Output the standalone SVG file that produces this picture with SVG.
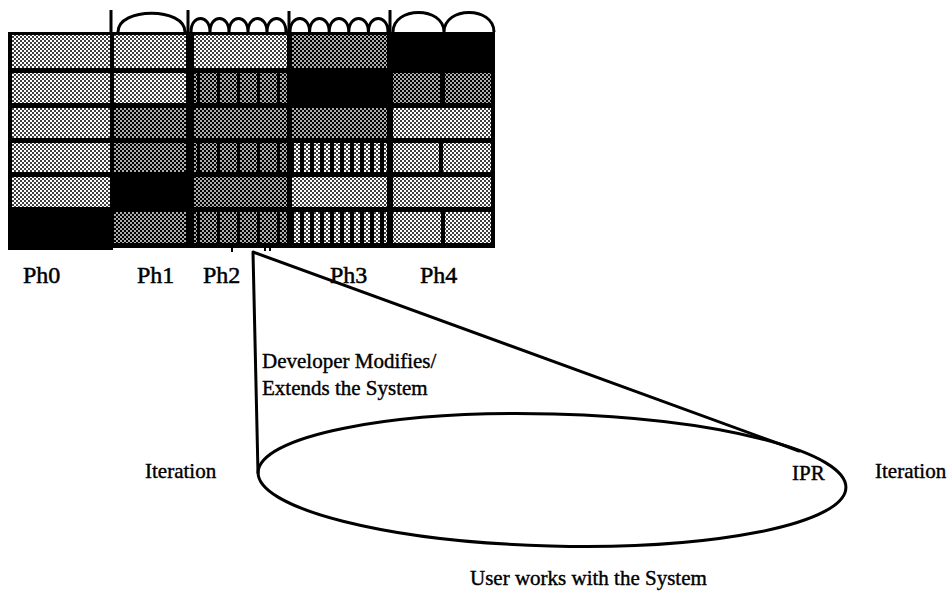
<svg xmlns="http://www.w3.org/2000/svg" width="950" height="601" viewBox="0 0 950 601">
<style>
.t{font-family:"Liberation Serif","Times New Roman",serif;font-size:21px;fill:#000;stroke:#000;stroke-width:0.4}
.ph{font-family:"Liberation Serif","Times New Roman",serif;font-size:24px;fill:#000;stroke:#000;stroke-width:0.5}
.ln{fill:none;stroke:#000;stroke-width:3;stroke-linecap:round;stroke-linejoin:round}
.arc{fill:none;stroke:#000;stroke-width:3}
</style>
<defs>
<pattern id="pL" width="4" height="4" patternUnits="userSpaceOnUse"><rect width="4" height="4" fill="#fff"/><circle cx="1" cy="1" r="1" fill="#000"/><circle cx="3" cy="3" r="1" fill="#000"/></pattern>
<pattern id="pD" width="4" height="4" patternUnits="userSpaceOnUse"><rect width="4" height="4" fill="#000"/><circle cx="1" cy="1" r="0.9" fill="#fff"/><circle cx="3" cy="3" r="0.9" fill="#fff"/></pattern>
<pattern id="pS" width="10" height="4" patternUnits="userSpaceOnUse"><rect width="10" height="4" fill="url(#pL)"/><rect width="4" height="4" fill="#000"/></pattern>
<pattern id="pS2" width="20" height="4" patternUnits="userSpaceOnUse"><rect width="20" height="4" fill="url(#pD)"/><rect x="17" width="3" height="4" fill="#000"/></pattern>
</defs>

<g id="grid">
<rect x="8" y="32" width="487" height="216" fill="#000"/>
<rect x="8" y="208" width="105" height="42" fill="#000"/>
<path d="M232,247 V252 M265,247 V251 M270,247 V251" stroke="#000" stroke-width="2"/>
</g>

<g id="Ph0">
<rect x="12" y="35" width="98" height="33" fill="url(#pL)"/>
<rect x="12" y="73" width="98" height="30" fill="url(#pL)"/>
<rect x="12" y="108" width="98" height="30" fill="url(#pL)"/>
<rect x="12" y="143" width="98" height="29" fill="url(#pL)"/>
<rect x="12" y="177" width="98" height="30" fill="url(#pL)"/>
</g>

<g id="Ph1">
<rect x="114" y="35" width="72" height="33" fill="url(#pL)"/>
<rect x="114" y="73" width="72" height="30" fill="url(#pL)"/>
<rect x="114" y="108" width="72" height="30" fill="url(#pD)"/>
<rect x="114" y="143" width="72" height="29" fill="url(#pD)"/>
<rect x="114" y="212" width="72" height="31" fill="url(#pD)"/>
<path class="arc" d="M111,32 V10 M188,32 V10 M118,32 C118,7 185,7 185,32"/>
</g>

<g id="Ph2">
<rect x="194" y="35" width="93" height="33" fill="url(#pL)"/>
<rect x="194" y="73" width="93" height="30" fill="url(#pS2)"/>
<rect x="194" y="108" width="93" height="30" fill="url(#pD)"/>
<rect x="194" y="143" width="93" height="29" fill="url(#pS2)"/>
<rect x="194" y="177" width="93" height="30" fill="url(#pD)"/>
<rect x="194" y="212" width="93" height="31" fill="url(#pS2)"/>
<path class="arc" d="M191,32 C191,14 210,14 210,32 C210,14 229,14 229,32 C229,14 248,14 248,32 C248,14 267,14 267,32 C267,14 286,14 286,32 M289,32 V11"/>
</g>

<g id="Ph3">
<rect x="292" y="35" width="95" height="33" fill="url(#pD)"/>
<rect x="292" y="108" width="95" height="30" fill="url(#pD)"/>
<rect x="292" y="143" width="95" height="29" fill="url(#pS)"/>
<rect x="292" y="177" width="95" height="30" fill="url(#pL)"/>
<rect x="292" y="212" width="95" height="31" fill="url(#pS)"/>
<path class="arc" d="M290,32 C290,14 309.6,14 309.6,32 C309.6,14 329.2,14 329.2,32 C329.2,14 348.8,14 348.8,32 C348.8,14 368.4,14 368.4,32 C368.4,14 388,14 388,32 M390,32 V10"/>
</g>

<g id="Ph4">
<rect x="393" y="73" width="47" height="30" fill="url(#pD)"/>
<rect x="445" y="73" width="46" height="30" fill="url(#pD)"/>
<rect x="393" y="108" width="98" height="30" fill="url(#pL)"/>
<rect x="393" y="143" width="46" height="29" fill="url(#pL)"/>
<rect x="443" y="143" width="48" height="29" fill="url(#pL)"/>
<rect x="393" y="177" width="98" height="30" fill="url(#pL)"/>
<rect x="393" y="212" width="48" height="31" fill="url(#pL)"/>
<rect x="445" y="212" width="46" height="31" fill="url(#pL)"/>
<path class="arc" d="M393,32 C393,6 444,6 444,32 C444,6 494,6 494,32"/>
</g>

<g id="labels">
<text class="ph" x="23" y="283">Ph0</text>
<text class="ph" x="137" y="283">Ph1</text>
<text class="ph" x="203" y="283">Ph2</text>
<text class="ph" x="330" y="283">Ph3</text>
<text class="ph" x="420" y="283">Ph4</text>
</g>

<g id="connectors">
<path class="ln" d="M258,473 L253,252 L799,451"/>
</g>

<g id="cycle">
<ellipse cx="552" cy="480" rx="294" ry="66" transform="rotate(1.5 552 480)" fill="none" stroke="#000" stroke-width="3"/>
<text class="t" x="145" y="478">Iteration</text>
<text class="t" x="875" y="478">Iteration</text>
<text class="t" x="792" y="480">IPR</text>
<text class="t" x="262" y="368">Developer Modifies/</text>
<text class="t" x="262" y="395">Extends the System</text>
<text class="t" x="470" y="585">User works with the System</text>
</g>
</svg>
